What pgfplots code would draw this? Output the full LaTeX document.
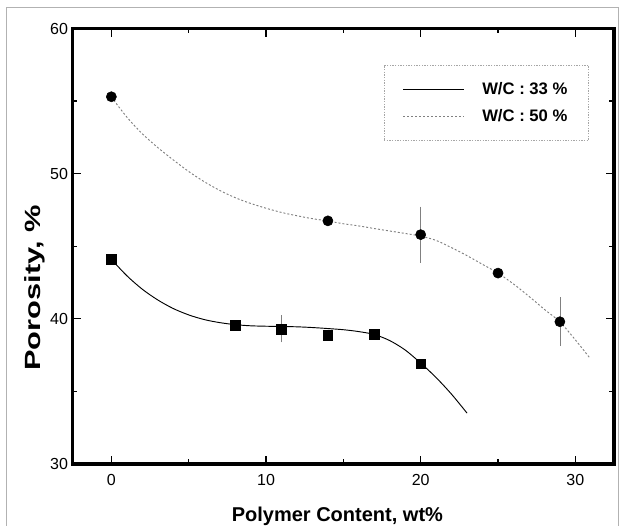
\documentclass[border=0pt]{standalone}
\usepackage{fontspec}
\setmainfont{Liberation Sans}
\usepackage{pgfplots}
\pgfplotsset{compat=1.18}

% measured points (marks) with the few visible error bars
\pgfplotstableread{
x  y     e
0  44.10 0
8  39.55 0
11 39.30 0.70
14 38.85 0
17 38.95 0
20 36.90 0
}\wcA
\pgfplotstableread{
x  y     e
0  55.30 0
14 46.75 0
20 45.80 1.70
25 43.15 0
29 39.80 1.45
}\wcB

\begin{document}
\begin{tikzpicture}
\begin{axis}[
    width=406pt, height=326.6pt, scale only axis,
    xmin=-2.5, xmax=32.5, ymin=30, ymax=60,
    xtick={0,10,20,30}, ytick={30,40,50,60},
    minor x tick num=1, minor y tick num=1,
    tick align=inside,
    major tick length=6pt, minor tick length=3.5pt,
    every tick/.style={black, line width=1pt},
    tick label style={font=\fontsize{12}{14}\selectfont},
    /pgf/number format/assume math mode=true,
    xticklabel shift=4pt,
    xlabel={Polymer Content, wt\%},
    xlabel style={at={(axis description cs:0.489,-0.133)}, anchor=base,
        font=\bfseries\fontsize{15}{18}\selectfont},
    ylabel={Porosity, \%},
    ylabel style={at={(axis description cs:-0.0696,0.404)}, anchor=center,
        xscale=1.4, font=\bfseries\fontsize{16.5}{18}\selectfont},
    clip=false,
    legend image code/.code={\draw[#1] (0pt,0pt) -- (46pt,0pt);},
    legend style={at={(axis description cs:0.954,0.916)}, anchor=north east,
        draw=gray!70, dash pattern=on 1pt off 1pt, line width=0.5pt,
        inner xsep=14pt, inner ysep=10.5pt, row sep=6pt,
        font=\bfseries\fontsize{12.5}{14}\selectfont,
        /tikz/every odd column/.append style={column sep=11pt}},
    legend cell align=left,
]
% fitted curves
\addplot[black, solid, line width=0.7pt, smooth] coordinates {
    (0,44.10) (1,42.97) (2,42.04) (3,41.30) (4,40.71) (5,40.27) (6,39.95)
    (7,39.74) (8,39.60) (9,39.52) (10,39.49) (11,39.47) (12,39.45) (13,39.40)
    (14,39.33) (15,39.25) (16,39.12) (17,38.92) (18,38.50) (19,37.85)
    (20,36.95) (21,35.95) (22,34.80) (23,33.50)
};
\addlegendentry{W/C : 33 \%}
\addplot[gray, dash pattern=on 1.5pt off 1.5pt, line width=0.7pt, smooth] coordinates {
    (0,55.28) (1,53.90) (2,52.75) (3,51.80) (4,50.95) (5,50.15) (6,49.45)
    (7,48.85) (8,48.35) (9,47.95) (10,47.62) (11,47.33) (12,47.10) (13,46.90)
    (14,46.74) (15,46.55) (16,46.40) (17,46.22) (18,46.05) (19,45.88)
    (20,45.70) (21,45.40) (22,44.90) (23,44.35) (24,43.75) (25,43.15)
    (26,42.40) (27,41.55) (28,40.65) (29,39.79) (30,38.55) (30.9,37.35)
};
\addlegendentry{W/C : 50 \%}

\addplot[only marks, mark=square*, mark size=3.6pt, black, forget plot,
    error bars/.cd, y dir=both, y explicit,
    error bar style={gray, line width=0.5pt},
    error mark options={gray, mark size=2.5pt, line width=0.5pt}]
    table[x=x, y=y, y error=e] {\wcA};
\addplot[only marks, mark=*, mark size=3.8pt, black, forget plot,
    error bars/.cd, y dir=both, y explicit,
    error bar style={gray, line width=0.5pt},
    error mark options={gray, mark size=2.5pt, line width=0.5pt}]
    table[x=x, y=y, y error=e] {\wcB};

% heavy axis frame as in the scan
\draw[black, line width=2.3pt] (rel axis cs:0,0) rectangle (rel axis cs:1,1);
% outer frame of the figure
\draw[gray!60, line width=0.6pt]
    (axis description cs:-0.1232,-0.1424) -- (axis description cs:-0.1232,1.0494)
    -- (axis description cs:1.0074,1.0494) -- (axis description cs:1.0074,-0.1424);
\coordinate (bbsw) at (axis description cs:-0.1343,-0.1424);
\coordinate (bbne) at (axis description cs:1.0166,1.0655);
\end{axis}
\pgfresetboundingbox
\path (bbsw) rectangle (bbne);
\end{tikzpicture}
\end{document}
